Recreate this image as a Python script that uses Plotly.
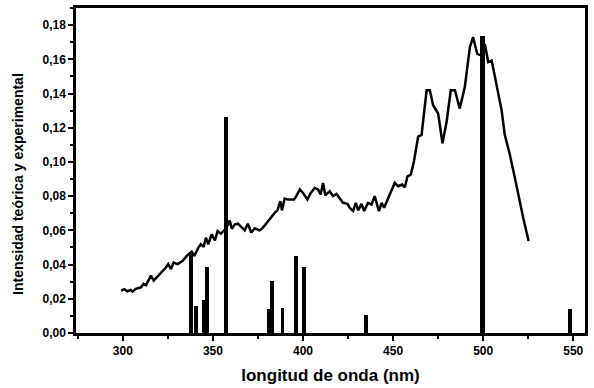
import plotly.graph_objects as go

# Experimental spectrum (nm, intensity)
exp_nm = [299, 300.8, 302.6, 304.4, 305.4, 307.2, 310, 311.5, 312.8, 315.6, 317.1, 318.9,
          321.1, 323.9, 325.2, 326.7, 328.2, 330.4, 333.2, 336, 338.2, 339.7, 341.9, 343.3,
          344.8, 346.1, 347.4, 349.3, 351.1, 352.6, 354.4, 356.7, 358.2, 359.3, 360.5, 362.2,
          363.9, 365.8, 367.6, 369.4, 371.3, 373.2, 375.9, 377.8, 380.6, 382.4, 384.3, 385.8,
          387.4, 388.3, 389.8, 391.7, 395, 396.3, 398.2, 400, 402.4, 404.3, 406.5, 408.3,
          409.8, 411.1, 412.4, 414.8, 416.7, 418.6, 420.4, 422.2, 424.7, 425.9, 427.8, 429.3,
          430.6, 432.4, 433.9, 436.1, 438, 439.8, 442.1, 443.6, 445, 446.9, 449.1, 450.9,
          452.8, 455, 456.5, 458, 459.8, 461.5, 463.9, 465.8, 468.6, 470.4, 472.2, 475,
          477.4, 479.7, 482, 484.3, 487, 489.8, 492.6, 494.4, 496.7, 499.1, 500.9, 502.8,
          504.7, 507.4, 510.2, 512, 514.8, 517.6, 519.4, 522.2, 525.2]
exp_val = [0.0248, 0.0256, 0.0244, 0.0252, 0.0242, 0.0258, 0.0267, 0.0287, 0.0279, 0.0335, 0.0306, 0.0325,
           0.0348, 0.0383, 0.0403, 0.0374, 0.0412, 0.0403, 0.0422, 0.0457, 0.0476, 0.0451, 0.0499, 0.0519,
           0.0503, 0.0557, 0.0519, 0.0577, 0.0542, 0.0596, 0.0581, 0.0606, 0.0631, 0.0658, 0.0610, 0.0635,
           0.0639, 0.0616, 0.0600, 0.0639, 0.0587, 0.0612, 0.0600, 0.0616, 0.0654, 0.0678, 0.0703, 0.0717,
           0.0771, 0.0717, 0.0786, 0.0780, 0.0780, 0.0800, 0.0839, 0.0819, 0.0780, 0.0819, 0.0848, 0.0839,
           0.0810, 0.0877, 0.0805, 0.0829, 0.0800, 0.0813, 0.0790, 0.0761, 0.0755, 0.0732, 0.0713, 0.0761,
           0.0717, 0.0755, 0.0713, 0.0761, 0.0751, 0.0800, 0.0713, 0.0761, 0.0732, 0.0780, 0.0829, 0.0877,
           0.0858, 0.0868, 0.0852, 0.0916, 0.0926, 0.1000, 0.1148, 0.1158, 0.1419, 0.1419, 0.1332, 0.1283,
           0.1109, 0.1235, 0.1419, 0.1419, 0.1312, 0.1438, 0.1671, 0.1729, 0.1632, 0.1622, 0.1690, 0.1584,
           0.1593, 0.1458, 0.1303, 0.1158, 0.1042, 0.0906, 0.0810, 0.0674, 0.0538]

# Theoretical lines (nm, intensity)
theo_nm = [337.6, 340.6, 345.0, 346.9, 357.4, 380.8, 382.6, 388.6, 396.3, 400.4, 435.2, 499.6, 548.2]
theo_val = [0.047, 0.016, 0.0194, 0.0387, 0.1264, 0.0142, 0.0302, 0.0147, 0.0451, 0.0387, 0.0103, 0.1735, 0.0142]
theo_width = [2.2, 2.0, 2.0, 2.2, 2.4, 2.0, 2.2, 2.0, 2.2, 2.2, 2.2, 2.8, 2.2]

x_ticks = [300, 350, 400, 450, 500, 550]
y_ticks = [0.00, 0.02, 0.04, 0.06, 0.08, 0.10, 0.12, 0.14, 0.16, 0.18]

fig = go.Figure()
fig.add_trace(go.Bar(x=theo_nm, y=theo_val, width=theo_width,
                     marker=dict(color="black", line=dict(width=0)), showlegend=False))
fig.add_trace(go.Scatter(x=exp_nm, y=exp_val, mode="lines",
                         line=dict(color="black", width=2.5), showlegend=False))

font_family = "Liberation Sans, Arial, sans-serif"
fig.update_layout(
    width=594, height=388,
    margin=dict(l=76, r=9, t=5, b=55),
    paper_bgcolor="white", plot_bgcolor="white",
    separators=",.",
    font=dict(family=font_family, color="black"),
    xaxis=dict(
        range=[274, 556.5], tickvals=x_ticks, ticktext=[str(v) for v in x_ticks],
        ticks="outside", ticklen=5, tickwidth=2, tickcolor="black",
        minor=dict(dtick=25, tick0=275, ticks="outside", ticklen=3, tickwidth=2, tickcolor="black"),
        showline=True, linewidth=2.5, linecolor="black", mirror=True,
        showgrid=False, zeroline=False,
        tickfont=dict(size=12, family=font_family, weight="bold"),
        title=dict(text="<b>longitud de onda (nm)</b>", font=dict(size=17), standoff=12),
    ),
    yaxis=dict(
        range=[0, 0.19], tickvals=y_ticks, ticktext=[f"{v:.2f}".replace(".", ",") for v in y_ticks],
        ticks="outside", ticklen=5, tickwidth=2, tickcolor="black",
        minor=dict(dtick=0.01, tick0=0, ticks="outside", ticklen=3, tickwidth=2, tickcolor="black"),
        showline=True, linewidth=2.5, linecolor="black", mirror=True,
        showgrid=False, zeroline=False,
        tickfont=dict(size=12, family=font_family, weight="bold"),
    ),
    annotations=[dict(
        text="<b>Intensidad teórica y experimental</b>", textangle=-90,
        xref="paper", yref="paper", x=-0.115, y=0.46, xanchor="center", yanchor="middle",
        showarrow=False, font=dict(size=14, family=font_family, color="black"),
    )],
    bargap=0,
)

fig.write_html("out.html")
